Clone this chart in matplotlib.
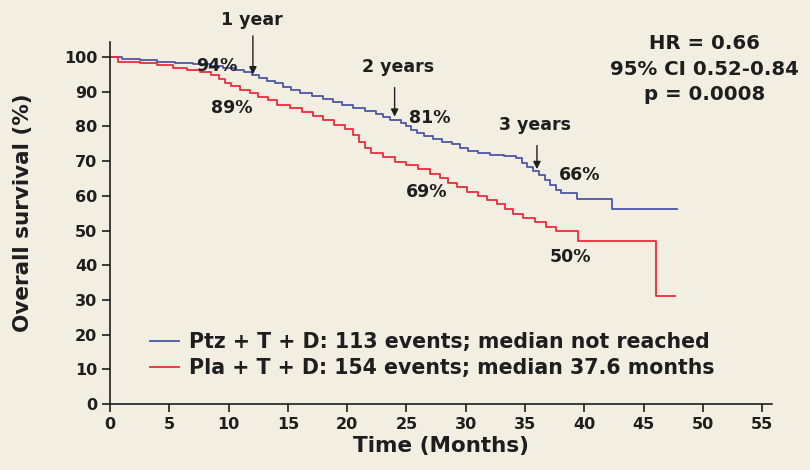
import numpy as np
import matplotlib
matplotlib.use("Agg")
import matplotlib.pyplot as plt

# Kaplan-Meier step points (month, % surviving)
ptz_t = [0, 1, 2.5, 4, 5.5, 7, 8.5, 9.5, 10.5, 11.3, 12, 12.6, 13.2, 13.9, 14.6,
         15.3, 16, 17, 18, 18.8, 19.6, 20.5, 21.5, 22.4, 23, 23.6, 24.5, 25,
         25.4, 25.9, 26.5, 27.2, 28, 28.8, 29.5, 30.2, 31, 32, 33.2, 34.2, 34.7,
         35.2, 35.7, 36.2, 36.7, 37.1, 37.6, 38.0, 39.4, 42.3, 47.8]
ptz_s = [100, 99.5, 99.1, 98.7, 98.3, 97.9, 97.4, 96.9, 96.3, 95.6, 94.8, 94.0,
         93.2, 92.4, 91.4, 90.4, 89.5, 88.7, 87.8, 86.9, 86.1, 85.3, 84.5, 83.6,
         82.7, 81.8, 81.0, 80.0, 79.0, 78.2, 77.3, 76.4, 75.6, 74.8, 73.9, 73.0,
         72.4, 71.9, 71.5, 70.8, 69.6, 68.3, 67.2, 66.0, 64.6, 63.2, 61.6, 60.8,
         59.1, 56.3, 56.3]

pla_t = [0, 0.7, 2.5, 4, 5.3, 6.5, 7.6, 8.5, 9.2, 9.7, 10.2, 11, 11.8, 12.5,
         13.3, 14.1, 15.2, 16.2, 17.1, 18, 18.9, 19.8, 20.5, 21, 21.5, 22, 23,
         24, 25, 26, 27, 27.8, 28.5, 29.3, 30.1, 31, 31.8, 32.6, 33.3, 34, 34.8,
         35.8, 36.8, 37.6, 39.5, 46.0, 47.6]
pla_s = [100, 98.6, 98.2, 97.6, 96.8, 96.2, 95.6, 94.8, 93.8, 92.6, 91.6, 90.6,
         89.6, 88.6, 87.5, 86.2, 85.4, 84.2, 83.0, 81.8, 80.5, 79.2, 77.5, 75.6,
         73.8, 72.4, 71.2, 69.8, 68.8, 67.6, 66.4, 65.0, 63.7, 62.5, 61.2, 60.0,
         58.8, 57.6, 56.2, 54.9, 53.6, 52.4, 51.0, 49.8, 47.0, 31.0, 31.0]

ptz_label = "Ptz + T + D: 113 events; median not reached"
pla_label = "Pla + T + D: 154 events; median 37.6 months"

xticks = list(range(0, 56, 5))
yticks = list(range(0, 101, 10))

BG = "#f2efe2"
BLUE = "#4b56a8"
RED = "#ee2a3a"
INK = "#1e1e1e"

fig = plt.figure(figsize=(8.1, 4.7), dpi=100, facecolor=BG)
ax = fig.add_axes([0.1358, 0.1404, 0.817, 0.770], facecolor=BG)

ax.step(ptz_t, ptz_s, where="post", color=BLUE, lw=1.3, label=ptz_label)
ax.step(pla_t, pla_s, where="post", color=RED, lw=1.3, label=pla_label)

ax.set_xlim(0, 55.8)
ax.set_ylim(0, 104.3)
ax.set_xticks(xticks)
ax.set_yticks(yticks)
for s in ("top", "right"):
    ax.spines[s].set_visible(False)
for s in ("left", "bottom"):
    ax.spines[s].set_color(INK)
    ax.spines[s].set_linewidth(1.2)
ax.tick_params(colors=INK, width=1.2, length=6, labelsize=11.5, pad=3)
for lab in ax.get_xticklabels() + ax.get_yticklabels():
    lab.set_fontweight("bold")

ax.set_xlabel("Time (Months)", fontsize=15.5, fontweight="bold",
              color=INK, labelpad=3)
ax.set_ylabel("Overall survival (%)", fontsize=15.5, fontweight="bold",
              color=INK, va="center")
ax.yaxis.set_label_coords(-0.131, 0.53)

# time-point annotations
ann = dict(fontsize=12.5, fontweight="bold", color=INK, ha="center", va="center")
arrow = dict(arrowstyle="-|>", color=INK, lw=1.0, mutation_scale=11)
for txt, tx, ty, x0, y0, y1 in [("1 year", 12.0, 110.7, 12.05, 106.9, 94.2),
                                ("2 years", 24.3, 97.1, 24.0, 92.0, 82.0),
                                ("3 years", 35.8, 80.4, 36.0, 75.3, 66.9)]:
    ax.text(tx, ty, txt, clip_on=False, **ann)
    ax.annotate("", xy=(x0, y1), xytext=(x0, y0), arrowprops=arrow,
                annotation_clip=False)

for txt, tx, ty in [("94%", 9.0, 97.4), ("89%", 10.3, 85.3), ("81%", 27.0, 82.4),
                    ("69%", 26.7, 61.1), ("66%", 39.6, 66.0), ("50%", 38.8, 42.4)]:
    ax.text(tx, ty, txt, **ann)

fig.text(0.870, 0.853, "HR = 0.66\n95% CI 0.52-0.84\np = 0.0008", fontsize=14.2,
         fontweight="bold", color=INK, ha="center", va="center", linespacing=1.41)

leg = ax.legend(loc="center left", bbox_to_anchor=(0.0604, 0.135), frameon=False,
                borderpad=0, borderaxespad=0,
                handlelength=1.4, handletextpad=0.5, labelspacing=0.3,
                prop=dict(weight="bold", size=14.8))
for t in leg.get_texts():
    t.set_color(INK)

fig.savefig("out.png", dpi=100, facecolor=BG)
